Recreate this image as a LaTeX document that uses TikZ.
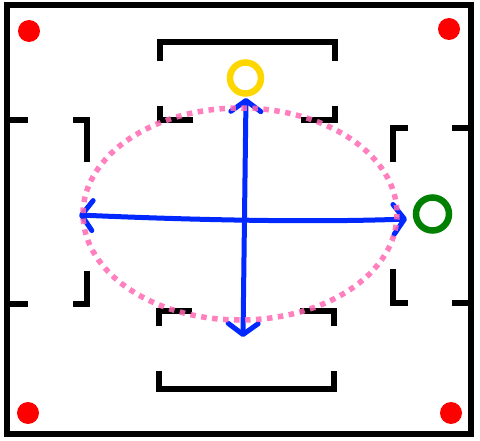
\documentclass[tikz,border=0pt]{standalone}
\usetikzlibrary{arrows.meta}
\definecolor{dotred}{RGB}{255,0,0}
\definecolor{ringyellow}{RGB}{255,215,0}
\definecolor{ringgreen}{RGB}{0,128,0}
\definecolor{arrowblue}{RGB}{0,40,255}
\definecolor{pathpink}{RGB}{255,105,180}
\begin{document}
\begin{tikzpicture}[x=1pt,y=-1pt,
  wall/.style={line width=6pt, draw=black, line cap=butt, line join=miter},
  reddot/.style={circle, fill=dotred, inner sep=0pt, minimum size=22pt},
  ring/.style={circle, line width=6.5pt, inner sep=0pt},
  bluearrow/.style={draw=arrowblue, line width=5pt, line cap=round, line join=round,
    {Straight Barb[length=11pt,width=30pt,line cap=round,line join=round]}-{Straight Barb[length=11pt,width=30pt,line cap=round,line join=round]}},
  pinkpath/.style={draw=pathpink, line width=5.5pt, dash pattern=on 5.5pt off 5.5pt, draw opacity=0.85}
]
\useasboundingbox (0,0) rectangle (480,441);
\fill[white] (0,0) rectangle (480,441);
% outer walls
\draw[wall] (7,5) rectangle (471,434);
% left side
\draw[wall] (7,120) -- (28,120);
\draw[wall] (7,304) -- (28,304);
\draw[wall] (73,120) -- (87,120) -- (87,162);
\draw[wall] (87,271) -- (87,304) -- (73,304);
% right side
\draw[wall] (452,128) -- (471,128);
\draw[wall] (452,303) -- (471,303);
\draw[wall] (408,128) -- (393,128) -- (393,162);
\draw[wall] (393,269) -- (393,303) -- (408,303);
% top bracket
\draw[wall] (160,61) -- (160,42) -- (335,42) -- (335,61);
\draw[wall] (193,120) -- (160,120) -- (160,106);
\draw[wall] (301,120) -- (335,120) -- (335,106);
% bottom bracket
\draw[wall] (192,311) -- (159,311) -- (159,326);
\draw[wall] (300,311) -- (334,311) -- (334,326);
\draw[wall] (159,371) -- (159,389) -- (334,389) -- (334,371);
% red corner dots
\node[reddot] (dotNW) at (29,31) {};
\node[reddot] (dotNE) at (449,29) {};
\node[reddot] (dotSW) at (28,413) {};
\node[reddot] (dotSE) at (451,413) {};
% blue arrows
\coordinate (vTop) at (246,98);
\coordinate (vBot) at (243,337);
\coordinate (hL) at (79,215);
\coordinate (hR) at (407,219);
\draw[bluearrow] (vBot) -- (vTop);
\draw[bluearrow] (hL) .. controls (170,219) and (300,223) .. (hR);
% pink dotted ellipse
\draw[pinkpath] (240,214) ellipse [x radius=157, y radius=106];
% rings
\node[ring, draw=ringyellow, minimum size=31pt] (yellowRing) at (245.5,78) {};
\node[ring, draw=ringgreen, minimum size=33pt] (greenRing) at (432.5,214) {};
\end{tikzpicture}
\end{document}
